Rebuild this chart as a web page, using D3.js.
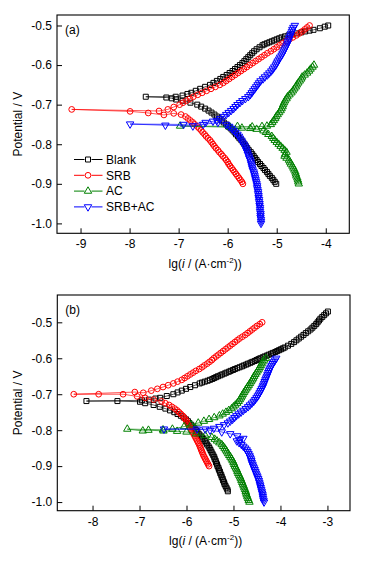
<!DOCTYPE html>
<html>
<head>
<meta charset="utf-8">
<script src="https://cdn.jsdelivr.net/npm/d3@7"></script>
<style>
  body { margin: 0; background: #fff; }
  svg text { font-family: "Liberation Sans", Arial, sans-serif; fill: #000; }
</style>
</head>
<body>
<div id="chart"></div>
<script>
// series names, colours and marker shapes
const seriesNames = ["Blank", "SRB", "AC", "SRB+AC"];
const seriesColors = ["#000000", "#ff0000", "#008000", "#0000ff"];
const seriesShapes = ["square", "circle", "triangleUp", "triangleDown"];

// tick values
const xTicksA = [-9, -8, -7, -6, -5, -4];
const xTicksB = [-8, -7, -6, -5, -4, -3];
const yTicks = [-0.5, -0.6, -0.7, -0.8, -0.9, -1.0];

// panel (a): [lg i, E], cathodic end -> Ecorr -> anodic end
const aBlank = [
  [-5.01,-0.900],[-5.04,-0.895],[-5.07,-0.890],[-5.10,-0.885],[-5.14,-0.880],[-5.17,-0.875],[-5.20,-0.870],[-5.24,-0.865],
  [-5.27,-0.860],[-5.31,-0.855],[-5.34,-0.850],[-5.38,-0.845],[-5.41,-0.840],[-5.44,-0.835],[-5.47,-0.830],[-5.50,-0.825],
  [-5.53,-0.820],[-5.57,-0.815],[-5.60,-0.810],[-5.63,-0.805],[-5.66,-0.800],[-5.69,-0.795],[-5.72,-0.790],[-5.76,-0.785],
  [-5.79,-0.780],[-5.83,-0.775],[-5.86,-0.770],[-5.90,-0.765],[-5.94,-0.760],[-5.99,-0.755],[-6.03,-0.750],[-6.08,-0.745],
  [-6.12,-0.740],[-6.17,-0.735],[-6.22,-0.730],[-6.27,-0.725],[-6.33,-0.720],[-6.39,-0.715],[-6.46,-0.710],[-6.54,-0.705],
  [-6.62,-0.700],[-6.76,-0.695],[-6.92,-0.690],[-7.05,-0.687],[-7.14,-0.684],[-7.25,-0.682],[-7.67,-0.680],
  [-7.06,-0.680],[-6.92,-0.677],[-6.82,-0.673],[-6.74,-0.670],[-6.65,-0.665],[-6.56,-0.660],[-6.46,-0.655],[-6.36,-0.650],
  [-6.29,-0.645],[-6.22,-0.640],[-6.15,-0.635],[-6.09,-0.630],[-6.02,-0.625],[-5.96,-0.620],[-5.90,-0.615],[-5.85,-0.610],
  [-5.80,-0.605],[-5.75,-0.600],[-5.70,-0.595],[-5.66,-0.590],[-5.62,-0.585],[-5.58,-0.580],[-5.54,-0.575],[-5.50,-0.570],
  [-5.46,-0.565],[-5.41,-0.560],[-5.35,-0.555],[-5.29,-0.550],[-5.25,-0.5475],[-5.20,-0.545],[-5.15,-0.5425],[-5.10,-0.540],
  [-5.05,-0.5375],[-5.00,-0.535],[-4.95,-0.5325],[-4.90,-0.530],[-4.83,-0.5275],[-4.76,-0.525],[-4.68,-0.5225],[-4.59,-0.520],
  [-4.50,-0.5175],[-4.42,-0.515],[-4.33,-0.513],[-4.25,-0.511],[-4.12,-0.507],[-4.02,-0.503],[-3.95,-0.500]
];
const aSRB = [
  [-5.69,-0.900],[-5.71,-0.895],[-5.74,-0.890],[-5.77,-0.885],[-5.80,-0.880],[-5.83,-0.875],[-5.86,-0.870],[-5.89,-0.865],
  [-5.92,-0.860],[-5.95,-0.855],[-5.98,-0.850],[-6.00,-0.845],[-6.03,-0.840],[-6.06,-0.835],[-6.10,-0.830],[-6.13,-0.825],
  [-6.17,-0.820],[-6.20,-0.815],[-6.24,-0.810],[-6.27,-0.805],[-6.30,-0.800],[-6.33,-0.795],[-6.36,-0.790],[-6.40,-0.785],
  [-6.44,-0.780],[-6.47,-0.775],[-6.51,-0.770],[-6.54,-0.765],[-6.58,-0.760],[-6.62,-0.755],[-6.67,-0.750],[-6.71,-0.745],
  [-6.76,-0.740],[-6.81,-0.735],[-6.86,-0.730],[-6.95,-0.725],[-7.10,-0.722],[-7.30,-0.726],[-7.62,-0.721],[-7.99,-0.717],
  [-9.18,-0.712],
  [-7.40,-0.716],[-7.22,-0.712],[-7.10,-0.706],[-6.98,-0.700],[-6.91,-0.695],[-6.84,-0.690],[-6.77,-0.685],[-6.70,-0.680],
  [-6.61,-0.675],[-6.52,-0.670],[-6.43,-0.665],[-6.34,-0.660],[-6.25,-0.655],[-6.16,-0.650],[-6.09,-0.645],[-6.03,-0.640],
  [-5.97,-0.635],[-5.91,-0.630],[-5.85,-0.625],[-5.79,-0.620],[-5.73,-0.615],[-5.67,-0.610],[-5.61,-0.605],[-5.55,-0.600],
  [-5.49,-0.595],[-5.43,-0.590],[-5.37,-0.585],[-5.31,-0.580],[-5.25,-0.575],[-5.19,-0.570],[-5.12,-0.565],[-5.06,-0.560],
  [-5.00,-0.555],[-4.94,-0.550],[-4.88,-0.545],[-4.81,-0.540],[-4.74,-0.535],[-4.67,-0.530],[-4.60,-0.525],[-4.54,-0.520],
  [-4.48,-0.515],[-4.43,-0.510],[-4.38,-0.505],[-4.33,-0.500]
];
const aAC = [
  [-4.55,-0.900],[-4.56,-0.895],[-4.57,-0.890],[-4.58,-0.885],[-4.60,-0.880],[-4.61,-0.875],[-4.62,-0.870],[-4.64,-0.865],
  [-4.66,-0.860],[-4.68,-0.855],[-4.71,-0.850],[-4.73,-0.845],[-4.75,-0.840],[-4.80,-0.835],[-4.84,-0.830],[-4.83,-0.825],
  [-4.80,-0.820],[-4.84,-0.815],[-4.88,-0.810],[-4.92,-0.805],[-4.96,-0.800],[-5.00,-0.795],[-5.04,-0.790],[-5.07,-0.785],
  [-5.10,-0.780],[-5.17,-0.775],[-5.22,-0.770],[-5.27,-0.766],[-5.41,-0.762],[-5.54,-0.760],[-5.71,-0.759],[-5.95,-0.757],
  [-6.97,-0.754],
  [-5.80,-0.755],[-5.50,-0.756],[-5.30,-0.755],[-5.20,-0.754],[-5.12,-0.750],[-5.09,-0.745],[-5.06,-0.740],[-5.03,-0.735],
  [-5.01,-0.730],[-4.98,-0.725],[-4.95,-0.720],[-4.92,-0.715],[-4.90,-0.710],[-4.88,-0.705],[-4.87,-0.700],[-4.85,-0.695],
  [-4.83,-0.690],[-4.80,-0.685],[-4.78,-0.680],[-4.74,-0.675],[-4.70,-0.670],[-4.67,-0.665],[-4.64,-0.660],[-4.61,-0.655],
  [-4.59,-0.650],[-4.56,-0.645],[-4.53,-0.640],[-4.50,-0.635],[-4.48,-0.630],[-4.43,-0.625],[-4.38,-0.620],[-4.34,-0.615],
  [-4.31,-0.610],[-4.27,-0.605],[-4.24,-0.600]
];
const aSRBAC = [
  [-5.32,-1.000],[-5.32,-0.995],[-5.32,-0.990],[-5.33,-0.985],[-5.33,-0.980],[-5.33,-0.975],[-5.34,-0.970],[-5.34,-0.965],
  [-5.34,-0.960],[-5.35,-0.955],[-5.35,-0.950],[-5.36,-0.945],[-5.36,-0.940],[-5.37,-0.935],[-5.37,-0.930],[-5.38,-0.925],
  [-5.38,-0.920],[-5.39,-0.915],[-5.40,-0.910],[-5.40,-0.905],[-5.41,-0.900],[-5.42,-0.895],[-5.43,-0.890],[-5.44,-0.885],
  [-5.45,-0.880],[-5.46,-0.875],[-5.47,-0.870],[-5.49,-0.865],[-5.50,-0.860],[-5.51,-0.855],[-5.52,-0.850],[-5.53,-0.845],
  [-5.54,-0.840],[-5.56,-0.835],[-5.57,-0.830],[-5.59,-0.825],[-5.60,-0.820],[-5.62,-0.815],[-5.63,-0.810],[-5.65,-0.805],
  [-5.67,-0.800],[-5.70,-0.795],[-5.72,-0.790],[-5.75,-0.785],[-5.77,-0.780],[-5.80,-0.775],[-5.84,-0.770],[-5.88,-0.765],
  [-5.92,-0.760],[-5.97,-0.755],[-6.03,-0.750],[-6.20,-0.745],[-6.50,-0.750],[-6.71,-0.754],[-7.27,-0.752],[-7.99,-0.749],
  [-6.90,-0.750],[-6.45,-0.745],[-6.30,-0.742],[-6.22,-0.740],[-6.15,-0.735],[-6.08,-0.730],[-6.03,-0.725],[-5.98,-0.720],
  [-5.93,-0.715],[-5.88,-0.710],[-5.84,-0.705],[-5.80,-0.700],[-5.75,-0.695],[-5.70,-0.690],[-5.64,-0.685],[-5.58,-0.680],
  [-5.54,-0.675],[-5.51,-0.670],[-5.48,-0.665],[-5.45,-0.660],[-5.42,-0.655],[-5.39,-0.650],[-5.36,-0.645],[-5.33,-0.640],
  [-5.28,-0.635],[-5.24,-0.630],[-5.19,-0.625],[-5.15,-0.620],[-5.11,-0.615],[-5.08,-0.610],[-5.05,-0.605],[-5.02,-0.600],
  [-5.00,-0.595],[-4.98,-0.590],[-4.95,-0.585],[-4.93,-0.580],[-4.90,-0.575],[-4.88,-0.570],[-4.86,-0.565],[-4.84,-0.560],
  [-4.82,-0.555],[-4.80,-0.550],[-4.78,-0.545],[-4.77,-0.540],[-4.75,-0.535],[-4.74,-0.530],[-4.72,-0.525],[-4.71,-0.520],
  [-4.69,-0.515],[-4.68,-0.510],[-4.66,-0.505],[-4.63,-0.500]
];

// panel (b)
const bBlank = [
  [-5.12,-0.970],[-5.13,-0.965],[-5.15,-0.960],[-5.17,-0.955],[-5.19,-0.950],[-5.20,-0.945],[-5.22,-0.940],[-5.23,-0.935],
  [-5.25,-0.930],[-5.26,-0.925],[-5.28,-0.920],[-5.29,-0.915],[-5.31,-0.910],[-5.32,-0.905],[-5.34,-0.900],[-5.35,-0.895],
  [-5.37,-0.890],[-5.38,-0.885],[-5.40,-0.880],[-5.41,-0.875],[-5.43,-0.870],[-5.45,-0.865],[-5.47,-0.860],[-5.49,-0.855],
  [-5.51,-0.850],[-5.53,-0.845],[-5.56,-0.840],[-5.58,-0.835],[-5.61,-0.830],[-5.64,-0.825],[-5.67,-0.820],[-5.70,-0.815],
  [-5.74,-0.810],[-5.77,-0.805],[-5.80,-0.800],[-5.83,-0.795],[-5.87,-0.790],[-5.90,-0.785],[-5.94,-0.780],[-5.97,-0.775],
  [-6.01,-0.770],[-6.06,-0.765],[-6.12,-0.760],[-6.19,-0.755],[-6.26,-0.750],[-6.35,-0.745],[-6.45,-0.740],[-6.57,-0.735],
  [-6.70,-0.730],[-6.88,-0.725],[-6.99,-0.721],[-7.47,-0.719],[-8.13,-0.719],
  [-6.95,-0.717],[-6.80,-0.715],[-6.66,-0.712],[-6.56,-0.710],[-6.42,-0.705],[-6.28,-0.700],[-6.19,-0.695],[-6.10,-0.690],
  [-6.01,-0.685],[-5.92,-0.680],[-5.82,-0.675],[-5.72,-0.670],[-5.67,-0.6675],[-5.61,-0.665],[-5.55,-0.6625],[-5.50,-0.660],
  [-5.45,-0.6575],[-5.41,-0.655],[-5.37,-0.6525],[-5.33,-0.650],[-5.28,-0.6475],[-5.24,-0.645],[-5.19,-0.6425],[-5.15,-0.640],
  [-5.10,-0.6375],[-5.06,-0.635],[-5.01,-0.6325],[-4.97,-0.630],[-4.92,-0.6275],[-4.87,-0.625],[-4.82,-0.6225],[-4.78,-0.620],
  [-4.73,-0.6175],[-4.69,-0.615],[-4.64,-0.6125],[-4.60,-0.610],[-4.55,-0.6075],[-4.51,-0.605],[-4.47,-0.6025],[-4.43,-0.600],
  [-4.38,-0.5975],[-4.34,-0.595],[-4.29,-0.5925],[-4.25,-0.590],[-4.20,-0.5875],[-4.16,-0.585],[-4.11,-0.5825],[-4.07,-0.580],
  [-4.03,-0.5775],[-3.99,-0.575],[-3.95,-0.5725],[-3.91,-0.570],[-3.84,-0.565],[-3.77,-0.560],[-3.71,-0.555],[-3.66,-0.550],
  [-3.61,-0.545],[-3.56,-0.540],[-3.51,-0.535],[-3.46,-0.530],[-3.41,-0.525],[-3.36,-0.520],[-3.32,-0.515],[-3.28,-0.510],
  [-3.24,-0.505],[-3.21,-0.500],[-3.18,-0.495],[-3.15,-0.490],[-3.11,-0.485],[-3.07,-0.480],[-3.03,-0.475],[-2.99,-0.470]
];
const bSRB = [
  [-5.52,-0.900],[-5.54,-0.895],[-5.56,-0.890],[-5.58,-0.885],[-5.60,-0.880],[-5.62,-0.875],[-5.64,-0.870],[-5.655,-0.865],
  [-5.67,-0.860],[-5.685,-0.855],[-5.70,-0.850],[-5.715,-0.845],[-5.73,-0.840],[-5.75,-0.835],[-5.77,-0.830],[-5.79,-0.825],
  [-5.81,-0.820],[-5.83,-0.815],[-5.85,-0.810],[-5.87,-0.805],[-5.89,-0.800],[-5.91,-0.795],[-5.94,-0.790],[-5.96,-0.785],
  [-5.98,-0.780],[-6.00,-0.775],[-6.02,-0.770],[-6.05,-0.765],[-6.08,-0.760],[-6.12,-0.755],[-6.16,-0.750],[-6.20,-0.745],
  [-6.25,-0.740],[-6.31,-0.735],[-6.37,-0.730],[-6.45,-0.725],[-6.53,-0.720],[-6.70,-0.715],[-6.88,-0.710],[-7.05,-0.706],
  [-7.35,-0.700],[-7.87,-0.700],[-8.40,-0.700],
  [-7.10,-0.694],[-6.92,-0.696],[-6.75,-0.690],[-6.62,-0.685],[-6.50,-0.680],[-6.39,-0.675],[-6.28,-0.670],[-6.19,-0.665],
  [-6.10,-0.660],[-6.04,-0.655],[-5.98,-0.650],[-5.92,-0.645],[-5.86,-0.640],[-5.80,-0.635],[-5.73,-0.630],[-5.67,-0.625],
  [-5.62,-0.620],[-5.56,-0.615],[-5.51,-0.610],[-5.46,-0.605],[-5.42,-0.600],[-5.37,-0.595],[-5.32,-0.590],[-5.27,-0.585],
  [-5.22,-0.580],[-5.17,-0.575],[-5.12,-0.570],[-5.07,-0.565],[-5.02,-0.560],[-4.97,-0.555],[-4.92,-0.550],[-4.87,-0.545],
  [-4.81,-0.540],[-4.75,-0.535],[-4.70,-0.530],[-4.65,-0.525],[-4.60,-0.520],[-4.55,-0.515],[-4.50,-0.510],[-4.44,-0.505],
  [-4.39,-0.500]
];
const bAC = [
  [-4.66,-1.000],[-4.675,-0.995],[-4.69,-0.990],[-4.705,-0.985],[-4.72,-0.980],[-4.73,-0.975],[-4.74,-0.970],[-4.755,-0.965],
  [-4.77,-0.960],[-4.785,-0.955],[-4.80,-0.950],[-4.815,-0.945],[-4.83,-0.940],[-4.845,-0.935],[-4.86,-0.930],[-4.88,-0.925],
  [-4.90,-0.920],[-4.915,-0.915],[-4.93,-0.910],[-4.95,-0.905],[-4.97,-0.900],[-4.985,-0.895],[-5.00,-0.890],[-5.02,-0.885],
  [-5.04,-0.880],[-5.065,-0.875],[-5.09,-0.870],[-5.115,-0.865],[-5.14,-0.860],[-5.165,-0.855],[-5.19,-0.850],[-5.22,-0.845],
  [-5.25,-0.840],[-5.30,-0.835],[-5.35,-0.830],[-5.40,-0.825],[-5.46,-0.820],[-5.60,-0.815],[-5.80,-0.810],[-6.00,-0.805],
  [-6.20,-0.803],[-6.49,-0.802],[-6.81,-0.800],[-6.93,-0.802],[-7.26,-0.797],
  [-6.50,-0.799],[-6.30,-0.797],[-6.05,-0.790],[-5.90,-0.785],[-5.75,-0.780],[-5.63,-0.775],[-5.52,-0.770],[-5.41,-0.765],
  [-5.30,-0.760],[-5.23,-0.755],[-5.16,-0.750],[-5.10,-0.745],[-5.04,-0.740],[-5.00,-0.735],[-4.96,-0.730],[-4.92,-0.725],
  [-4.89,-0.720],[-4.865,-0.715],[-4.84,-0.710],[-4.82,-0.705],[-4.80,-0.700],[-4.775,-0.695],[-4.75,-0.690],[-4.725,-0.685],
  [-4.70,-0.680],[-4.675,-0.675],[-4.65,-0.670],[-4.625,-0.665],[-4.60,-0.660],[-4.58,-0.655],[-4.56,-0.650],[-4.535,-0.645],
  [-4.51,-0.640],[-4.485,-0.635],[-4.46,-0.630],[-4.44,-0.625],[-4.42,-0.620],[-4.40,-0.615],[-4.38,-0.610],[-4.35,-0.605],
  [-4.31,-0.600]
];
const bSRBAC = [
  [-4.35,-1.000],[-4.36,-0.995],[-4.37,-0.990],[-4.375,-0.985],[-4.38,-0.980],[-4.39,-0.975],[-4.40,-0.970],[-4.41,-0.965],
  [-4.42,-0.960],[-4.43,-0.955],[-4.44,-0.950],[-4.45,-0.945],[-4.46,-0.940],[-4.475,-0.935],[-4.49,-0.930],[-4.505,-0.925],
  [-4.52,-0.920],[-4.535,-0.915],[-4.55,-0.910],[-4.565,-0.905],[-4.58,-0.900],[-4.595,-0.895],[-4.61,-0.890],[-4.62,-0.885],
  [-4.63,-0.880],[-4.645,-0.875],[-4.66,-0.870],[-4.68,-0.865],[-4.70,-0.860],[-4.72,-0.855],[-4.75,-0.850],[-4.79,-0.845],
  [-4.83,-0.840],[-4.88,-0.835],[-4.93,-0.830],[-4.86,-0.826],[-4.79,-0.823],[-4.92,-0.816],[-5.07,-0.810],[-5.25,-0.805],
  [-5.50,-0.800],[-5.78,-0.797],[-6.48,-0.797],
  [-5.60,-0.797],[-5.42,-0.795],[-5.30,-0.790],[-5.20,-0.785],[-5.12,-0.780],[-5.07,-0.775],[-5.02,-0.770],[-4.98,-0.765],
  [-4.94,-0.760],[-4.89,-0.755],[-4.84,-0.750],[-4.79,-0.745],[-4.74,-0.740],[-4.69,-0.735],[-4.65,-0.730],[-4.61,-0.725],
  [-4.57,-0.720],[-4.54,-0.715],[-4.51,-0.710],[-4.485,-0.705],[-4.46,-0.700],[-4.44,-0.695],[-4.42,-0.690],[-4.40,-0.685],
  [-4.38,-0.680],[-4.365,-0.675],[-4.35,-0.670],[-4.335,-0.665],[-4.32,-0.660],[-4.305,-0.655],[-4.29,-0.650],[-4.275,-0.645],
  [-4.26,-0.640],[-4.245,-0.635],[-4.23,-0.630],[-4.21,-0.625],[-4.19,-0.620],[-4.165,-0.615],[-4.14,-0.610],[-4.115,-0.605],
  [-4.09,-0.600]
];

const width = 376, height = 563;
const svg = d3.select("#chart").append("svg")
    .attr("width", width)
    .attr("height", height);

function markerPath(shape) {
    if (shape === "square") return d3.symbol().type(d3.symbolSquare).size(25)();
    if (shape === "circle") return d3.symbol().type(d3.symbolCircle).size(26)();
    return d3.symbol().type(d3.symbolTriangle).size(24)();
}

function drawMarkers(g, pts, shape, color) {
    g.selectAll("path.mk")
        .data(pts)
        .enter().append("path")
        .attr("class", "mk")
        .attr("d", markerPath(shape))
        .attr("transform", d => "translate(" + d[0] + "," + d[1] + ")" + (shape === "triangleDown" ? " rotate(180)" : ""))
        .attr("fill", "none")
        .attr("stroke", color)
        .attr("stroke-width", 1);
}

function drawPanel(p) {
    let xScale = d3.scaleLinear().domain(p.xDom).range([p.left, p.right]);
    let yScale = d3.scaleLinear().domain(p.yDom).range([p.bottom, p.top]);
    let g = svg.append("g");

    // series
    p.series.forEach((s, i) => {
        let pts = s.map(d => [xScale(d[0]), yScale(d[1])]);
        let sg = g.append("g");
        sg.append("path")
            .attr("d", d3.line()(pts))
            .attr("fill", "none")
            .attr("stroke", seriesColors[i])
            .attr("stroke-opacity", 0.75)
            .attr("stroke-width", 0.9);
        drawMarkers(sg, pts, seriesShapes[i], seriesColors[i]);
    });

    // axes with inward ticks
    let xAxis = d3.axisBottom(xScale).tickValues(p.xTicks).tickSizeInner(-5).tickSizeOuter(0).tickPadding(6.5);
    let yAxis = d3.axisLeft(yScale).tickValues(yTicks).tickSizeInner(-5).tickSizeOuter(0).tickPadding(5);

    let xg = g.append("g").attr("transform", "translate(0," + p.bottom + ")").call(xAxis);
    let yg = g.append("g").attr("transform", "translate(" + p.left + ",0)").call(yAxis);
    [xg, yg].forEach(a => {
        a.select(".domain").remove();
        a.selectAll("line").attr("stroke", "#000").attr("stroke-width", 1);
        a.selectAll("text").attr("font-size", 12).attr("font-family", "Liberation Sans, Arial, sans-serif").attr("fill", "#000");
    });
    xg.selectAll("text").text(d => String(d));
    yg.selectAll("text").text(d => d.toFixed(1));

    g.append("rect")
        .attr("x", p.left).attr("y", p.top)
        .attr("width", p.right - p.left).attr("height", p.bottom - p.top)
        .attr("fill", "none").attr("stroke", "#000").attr("stroke-width", 1.1);

    g.append("text")
        .attr("x", p.left + 8).attr("y", p.top + 19)
        .attr("font-size", 12)
        .text(p.label);

    // x label
    let xl = g.append("text")
        .attr("x", (p.left + p.right) / 2 + 2).attr("y", p.xLabelY)
        .attr("text-anchor", "middle")
        .attr("font-size", 12);
    xl.append("tspan").text("lg(");
    xl.append("tspan").attr("font-style", "italic").text("i");
    xl.append("tspan").text(" / (A\u00B7cm");
    xl.append("tspan").attr("dy", -5).attr("font-size", 8).text("-2");
    xl.append("tspan").attr("dy", 5).text("))");

    // y label
    g.append("text")
        .attr("transform", "translate(" + 22 + "," + ((p.top + p.bottom) / 2) + ") rotate(-90)")
        .attr("text-anchor", "middle")
        .attr("font-size", 12)
        .text("Potential / V");

    return g;
}

let panelA = drawPanel({
    top: 15, bottom: 233.3, left: 57, right: 349.3,
    xDom: [-9.48, -3.52], yDom: [-1.025, -0.4735],
    xTicks: xTicksA, label: "(a)", xLabelY: 268,
    series: [aBlank, aSRB, aAC, aSRBAC]
});

drawPanel({
    top: 295, bottom: 510.7, left: 57.3, right: 350,
    xDom: [-8.75, -2.52], yDom: [-1.024, -0.424],
    xTicks: xTicksB, label: "(b)", xLabelY: 545,
    series: [bBlank, bSRB, bAC, bSRBAC]
});

// legend in panel (a)
let legend = panelA.append("g");
seriesNames.forEach((name, i) => {
    let ly = 159.5 + i * 15.8;
    let row = legend.append("g");
    row.append("line").attr("x1", 74).attr("x2", 84.5).attr("y1", ly).attr("y2", ly)
        .attr("stroke", seriesColors[i]).attr("stroke-width", 1);
    row.append("line").attr("x1", 91.5).attr("x2", 102.5).attr("y1", ly).attr("y2", ly)
        .attr("stroke", seriesColors[i]).attr("stroke-width", 1);
    drawMarkers(row, [[88, ly]], seriesShapes[i], seriesColors[i]);
    row.append("text").attr("x", 106).attr("y", ly + 4.3)
        .attr("font-size", 12)
        .text(name);
});
</script>
</body>
</html>
